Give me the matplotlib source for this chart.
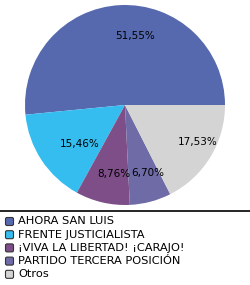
import matplotlib.pyplot as plt
import numpy as np
from matplotlib.patches import FancyBboxPatch

# Data
parties = ['AHORA SAN LUIS', 'FRENTE JUSTICIALISTA', '¡VIVA LA LIBERTAD! ¡CARAJO!',
           'PARTIDO TERCERA POSICIÓN', 'Otros']
shares = [51.55, 15.46, 8.76, 6.70, 17.53]
colors = ['#5669AF', '#34BDEE', '#7E4E88', '#6F6BA7', '#D4D4D4']

# label nudges (pixels) to match the original placement
label_dx = [13, 13, 5, 5, 13]

W, H = 250, 285
fig = plt.figure(figsize=(W / 100, H / 100), dpi=100)

# Pie: centre (125,105), radius 100 px
ax = fig.add_axes([25 / W, 1 - 205 / H, 200 / W, 200 / H])
wedges, _ = ax.pie(shares, colors=colors, startangle=0, counterclock=True,
                   radius=1, wedgeprops=dict(linewidth=0))
ax.set_xlim(-1, 1)
ax.set_ylim(-1, 1)
ax.set_aspect('equal')
ax.axis('off')

for w, v, dx in zip(wedges, shares, label_dx):
    ang = np.deg2rad((w.theta1 + w.theta2) / 2)
    x, y = 0.7 * np.cos(ang), 0.7 * np.sin(ang)
    ax.annotate(f'{v:.2f}%'.replace('.', ','), (x, y), xytext=(dx * 0.72, -0.5),
                textcoords='offset points', ha='center', va='center',
                fontsize=7.5, color='black')

# Legend area
lax = fig.add_axes([0, 0, 1, 1])
lax.set_xlim(0, W)
lax.set_ylim(H, 0)
lax.axis('off')
lax.plot([0, W], [211, 211], color='black', linewidth=1.2)

y0, step = 221.5, 13.2
for i, (name, c) in enumerate(zip(parties, colors)):
    yy = y0 + i * step
    box = FancyBboxPatch((5.5, yy - 4), 8, 8, boxstyle='round,pad=0,rounding_size=1.5',
                         facecolor=c, edgecolor='#333333', linewidth=0.8)
    lax.add_patch(box)
    lax.text(18, yy, name, ha='left', va='center', fontsize=8.2, color='black')

fig.savefig('out.png', dpi=100)
